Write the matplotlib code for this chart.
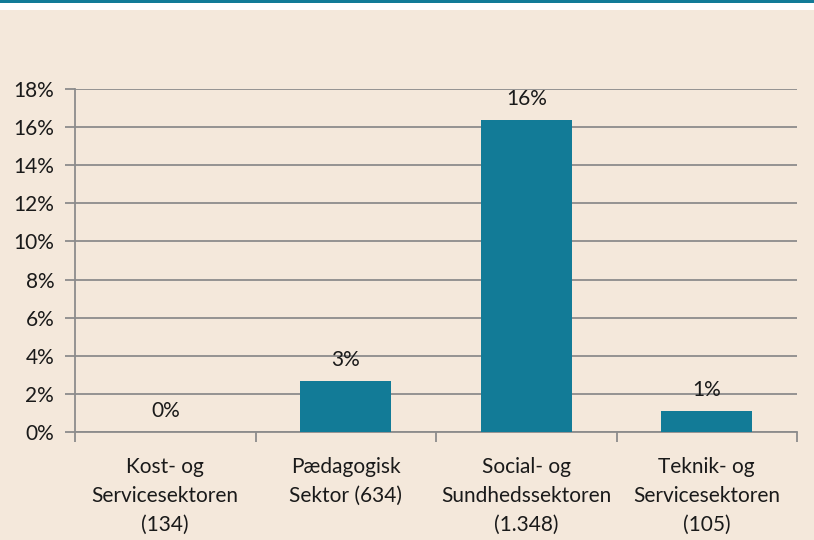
import numpy as np
import matplotlib.pyplot as plt
from matplotlib.patches import Rectangle

# data
categories = ['Kost- og\nServicesektoren\n(134)',
              'Pædagogisk\nSektor (634)',
              'Social- og\nSundhedssektoren\n(1.348)',
              'Teknik- og\nServicesektoren\n(105)']
shares = [0.0, 2.68, 16.35, 1.1]   # percent
yTicks = [0, 2, 4, 6, 8, 10, 12, 14, 16, 18]

barColor = '#127B97'
gridColor = '#8C8C8C'
bgColor = '#F4E8DB'
textColor = '#1A1A1A'

plt.rcParams['font.family'] = ['Lato', 'DejaVu Sans']

fig = plt.figure(figsize=(8.14, 5.4), dpi=100)
fig.patch.set_facecolor(bgColor)

# header strip: teal line on top, white band below it
fig.patches.append(Rectangle((0, 1 - 10/540), 1, 10/540, transform=fig.transFigure,
                             facecolor='white', edgecolor='none', zorder=0))
fig.patches.append(Rectangle((0, 1 - 2.5/540), 1, 2.5/540, transform=fig.transFigure,
                             facecolor=barColor, edgecolor='none', zorder=1))

ax = fig.add_axes([75/814, 108/540, (797 - 75)/814, (432 - 89)/540])
ax.set_facecolor(bgColor)

x = np.arange(len(categories))
ax.bar(x, shares, width=0.505, color=barColor, zorder=3)

for xi, v in zip(x, shares):
    ax.annotate(f'{v:.0f}%', (xi, v), xytext=(0, 8), textcoords='offset points',
                ha='center', va='bottom', fontsize=15, color=textColor)

ax.set_xlim(-0.5, len(categories) - 0.5)
ax.set_ylim(0, 18)
ax.set_yticks(yTicks)
ax.set_yticklabels([f'{t}%' for t in yTicks], fontsize=15, color=textColor)
ax.yaxis.grid(True, color=gridColor, linewidth=1.3, zorder=0)
ax.set_axisbelow(True)

# category boundaries carry the x ticks, labels sit between them
ax.set_xticks(np.arange(len(categories) + 1) - 0.5)
ax.set_xticklabels([])
ax.set_xticks(x, minor=True)
ax.set_xticklabels(categories, minor=True, fontsize=15, color=textColor, linespacing=1.55)
ax.tick_params(axis='x', which='major', length=7, width=1.3, color=gridColor)
ax.tick_params(axis='x', which='minor', length=0, pad=18)
ax.tick_params(axis='y', length=7, width=1.3, color=gridColor, pad=8)

for side in ['top', 'right']:
    ax.spines[side].set_visible(False)
for side in ['left', 'bottom']:
    ax.spines[side].set_color(gridColor)
    ax.spines[side].set_linewidth(1.3)

fig.savefig('out.png', dpi=100, facecolor=fig.get_facecolor())
